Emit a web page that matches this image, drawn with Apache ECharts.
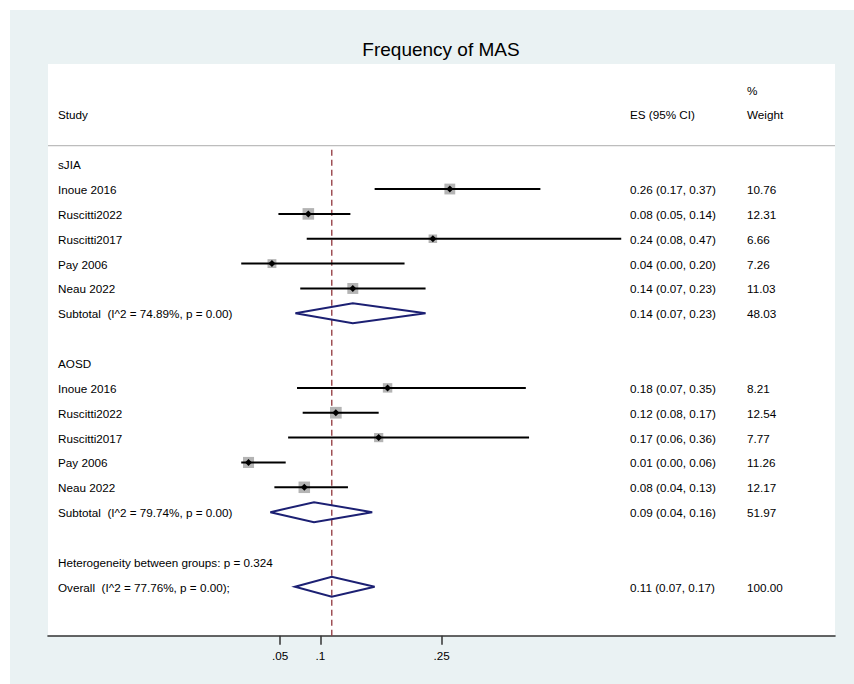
<!DOCTYPE html>
<html><head><meta charset="utf-8">
<script src="https://cdn.jsdelivr.net/npm/echarts@6/dist/echarts.min.js"></script>
<style>html,body{margin:0;padding:0;background:#fff}#c{width:854px;height:684px}</style>
</head><body><div id="c"></div>
<script>
// ---------- data ----------
const titleText = 'Frequency of MAS';
const groupNames = ['sJIA', 'AOSD'];
const sjiaStudies = ['Inoue 2016', 'Ruscitti2022', 'Ruscitti2017', 'Pay 2006', 'Neau 2022'];
const sjiaES   = [0.260, 0.085, 0.239, 0.040, 0.140];
const sjiaLow  = [0.167, 0.048, 0.083, 0.002, 0.075];
const sjiaHigh = [0.372, 0.137, 0.472, 0.204, 0.230];
const sjiaWeight = [10.76, 12.31, 6.66, 7.26, 11.03];
const sjiaESLabel = ['0.26 (0.17, 0.37)', '0.08 (0.05, 0.14)', '0.24 (0.08, 0.47)', '0.04 (0.00, 0.20)', '0.14 (0.07, 0.23)'];

const aosdStudies = ['Inoue 2016', 'Ruscitti2022', 'Ruscitti2017', 'Pay 2006', 'Neau 2022'];
const aosdES   = [0.183, 0.119, 0.172, 0.011, 0.080];
const aosdLow  = [0.071, 0.078, 0.060, 0.002, 0.043];
const aosdHigh = [0.354, 0.172, 0.358, 0.057, 0.134];
const aosdWeight = [8.21, 12.54, 7.77, 11.26, 12.17];
const aosdESLabel = ['0.18 (0.07, 0.35)', '0.12 (0.08, 0.17)', '0.17 (0.06, 0.36)', '0.01 (0.00, 0.06)', '0.08 (0.04, 0.13)'];

const subtotalLabels = ['Subtotal\u00a0 (I^2 = 74.89%, p = 0.00)', 'Subtotal\u00a0 (I^2 = 79.74%, p = 0.00)'];
const subtotalES   = [0.140, 0.092];
const subtotalLow  = [0.069, 0.038];
const subtotalHigh = [0.230, 0.164];
const subtotalWeight = [48.03, 51.97];
const subtotalESLabel = ['0.14 (0.07, 0.23)', '0.09 (0.04, 0.16)'];

const heterogeneityLabel = 'Heterogeneity between groups: p = 0.324';
const overallLabel = 'Overall\u00a0 (I^2 = 77.76%, p = 0.00);';
const overallES = 0.114, overallLow = 0.0685, overallHigh = 0.167;
const overallWeight = 100.00;
const overallESLabel = '0.11 (0.07, 0.17)';

const headerStudy = 'Study', headerES = 'ES (95% CI)', headerPct = '%', headerWeight = 'Weight';
const tickValues = [0.05, 0.1, 0.25];
const tickLabels = ['.05', '.1', '.25'];

// ---------- layout ----------
const FONT = '"Liberation Sans", Arial, Helvetica, sans-serif';
const FS = 11.7;
const COL = { left: 58, es: 630, wt: 747 };
const X_MIN = -0.237, X_MAX = 0.7364;   // axis extent across the plot region
const Y_MIN = -4.03, Y_MAX = 18.97;     // row extent

// ---------- build rows ----------
const texts = [];   // {row, col, text}
const ciData = [];  // [lo, row, hi]
const boxData = []; // [es, row, weight]
const ptData = [];  // [es, row]
const diaData = []; // [lo, row, hi, es]

texts.push({ row: -3, col: 'wt', text: headerPct });
texts.push({ row: -2, col: 'left', text: headerStudy });
texts.push({ row: -2, col: 'es', text: headerES });
texts.push({ row: -2, col: 'wt', text: headerWeight });

const groups = [
  { name: groupNames[0], studies: sjiaStudies, es: sjiaES, lo: sjiaLow, hi: sjiaHigh, w: sjiaWeight, lab: sjiaESLabel },
  { name: groupNames[1], studies: aosdStudies, es: aosdES, lo: aosdLow, hi: aosdHigh, w: aosdWeight, lab: aosdESLabel }
];
let row = 0;
groups.forEach((g, gi) => {
  texts.push({ row, col: 'left', text: g.name });
  row++;
  g.studies.forEach((s, i) => {
    texts.push({ row, col: 'left', text: s });
    texts.push({ row, col: 'es', text: g.lab[i] });
    texts.push({ row, col: 'wt', text: g.w[i].toFixed(2) });
    ciData.push([g.lo[i], row, g.hi[i]]);
    boxData.push([g.es[i], row, g.w[i]]);
    ptData.push([g.es[i], row]);
    row++;
  });
  texts.push({ row, col: 'left', text: subtotalLabels[gi] });
  texts.push({ row, col: 'es', text: subtotalESLabel[gi] });
  texts.push({ row, col: 'wt', text: subtotalWeight[gi].toFixed(2) });
  diaData.push([subtotalLow[gi], row, subtotalHigh[gi], subtotalES[gi]]);
  row += 2;
});
texts.push({ row, col: 'left', text: heterogeneityLabel });
row++;
texts.push({ row, col: 'left', text: overallLabel });
texts.push({ row, col: 'es', text: overallESLabel });
texts.push({ row, col: 'wt', text: overallWeight.toFixed(2) });
diaData.push([overallLow, row, overallHigh, overallES]);

const chart = echarts.init(document.getElementById('c'), null, { renderer: 'svg' });
chart.setOption({
  animation: false,
  backgroundColor: 'transparent',
  textStyle: { fontFamily: FONT },
  graphic: [
    { type: 'rect', z: -10, silent: true, shape: { x: 10, y: 10, width: 844, height: 674 }, style: { fill: '#eaf2f3' } },
    { type: 'text', z: 10, x: 441, y: 49, style: { text: titleText, font: '19px ' + FONT, fill: '#000', align: 'center', verticalAlign: 'middle' } },
    { type: 'line', z: 10, shape: { x1: 48, y1: 145.7, x2: 835, y2: 145.7 }, style: { stroke: '#bdbdbd', lineWidth: 1.2 } }
  ],
  grid: { left: 48, right: 19, top: 64, bottom: 48.3, show: true, backgroundColor: '#ffffff', borderWidth: 0 },
  xAxis: {
    type: 'value', min: X_MIN, max: X_MAX,
    splitLine: { show: false },
    axisLine: { show: true, onZero: false, lineStyle: { color: '#333', width: 1.6 } },
    axisTick: { show: true, customValues: tickValues, length: 9, lineStyle: { color: '#333', width: 1.5 } },
    axisLabel: {
      customValues: tickValues, margin: 14, fontSize: FS, color: '#000', fontFamily: FONT,
      formatter: v => {
        let bi = 0; tickValues.forEach((t, i) => { if (Math.abs(t - v) < Math.abs(tickValues[bi] - v)) bi = i; });
        return tickLabels[bi];
      }
    }
  },
  yAxis: { type: 'value', inverse: true, min: Y_MIN, max: Y_MAX, show: false },
  series: [
    {
      type: 'line', z: 1, data: [[overallES, -0.58], [overallES, Y_MAX]], symbol: 'none', silent: true,
      lineStyle: { color: '#90353b', width: 1.3, type: [6, 4] }
    },
    {
      type: 'scatter', z: 2, data: boxData, symbol: 'rect', silent: true,
      symbolSize: v => Math.sqrt(v[2]) * 3.3,
      itemStyle: { color: '#b4b4b4', opacity: 1 }
    },
    {
      type: 'custom', z: 3, data: ciData, encode: { x: [0, 2], y: 1 }, clip: false, silent: true,
      renderItem: (params, api) => {
        const p1 = api.coord([api.value(0), api.value(1)]);
        const p2 = api.coord([api.value(2), api.value(1)]);
        return { type: 'line', shape: { x1: p1[0], y1: p1[1], x2: p2[0], y2: p2[1] }, style: { stroke: '#000', lineWidth: 2 } };
      }
    },
    {
      type: 'scatter', z: 4, data: ptData, symbol: 'diamond', symbolSize: 7, silent: true,
      itemStyle: { color: '#000', opacity: 1 }
    },
    {
      type: 'custom', z: 5, data: diaData, encode: { x: [0, 2, 3], y: 1 }, clip: false, silent: true,
      renderItem: (params, api) => {
        const r = api.value(1);
        const l = api.coord([api.value(0), r]);
        const h = api.coord([api.value(2), r]);
        const c = api.coord([api.value(3), r]);
        return {
          type: 'polygon',
          shape: { points: [[l[0], l[1]], [c[0], c[1] - 10], [h[0], h[1]], [c[0], c[1] + 10]] },
          style: { stroke: '#1c2073', lineWidth: 2, fill: 'none' }
        };
      }
    },
    {
      type: 'custom', z: 6, data: texts.map(t => [0, t.row]), clip: false, silent: true,
      renderItem: (params, api) => {
        const t = texts[params.dataIndex];
        const y = api.coord([0, api.value(1)])[1];
        return {
          type: 'text', x: COL[t.col], y: y + 0.5,
          style: { text: t.text, font: FS + 'px ' + FONT, fill: '#000', align: 'left', verticalAlign: 'middle' }
        };
      }
    }
  ]
});
</script></body></html>
